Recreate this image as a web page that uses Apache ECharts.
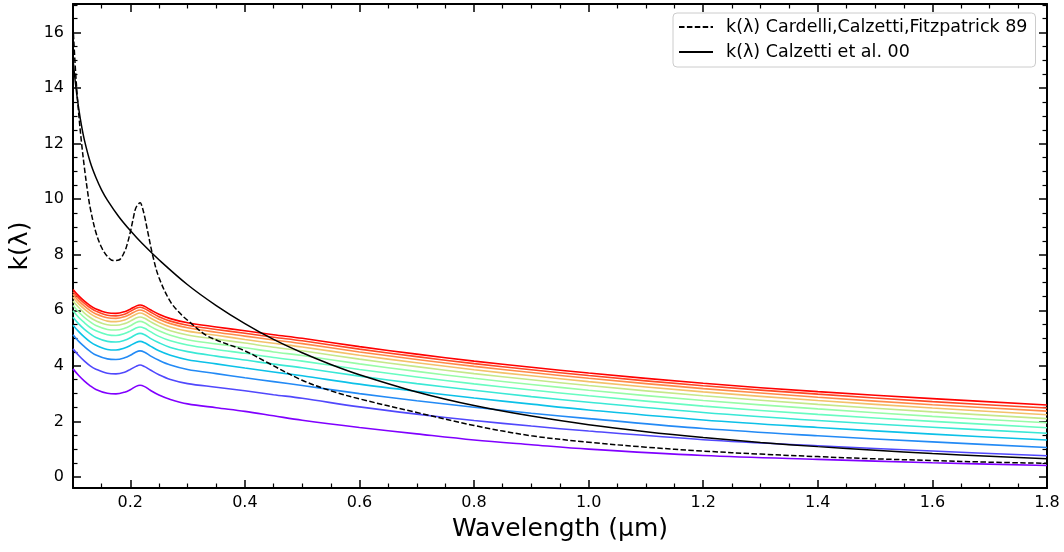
<!DOCTYPE html>
<html><head><meta charset="utf-8">
<script src="https://cdn.jsdelivr.net/npm/echarts@6/dist/echarts.min.js"></script>
<style>html,body{margin:0;padding:0;background:#fff}#c{width:1064px;height:552px}</style>
</head><body><div id="c"></div>
<script>
// ---------- data ----------
const xMajor = [0.2, 0.4, 0.6, 0.8, 1.0, 1.2, 1.4, 1.6, 1.8];
const xMinor = [0.15, 0.25, 0.3, 0.35, 0.45, 0.5, 0.55, 0.65, 0.7, 0.75, 0.85, 0.9, 0.95, 1.05, 1.1, 1.15, 1.25, 1.3, 1.35, 1.45, 1.5, 1.55, 1.65, 1.7, 1.75];
const yMajor = [0, 2, 4, 6, 8, 10, 12, 14, 16];
const yMinor = [0.5, 1, 1.5, 2.5, 3, 3.5, 4.5, 5, 5.5, 6.5, 7, 7.5, 8.5, 9, 9.5, 10.5, 11, 11.5, 12.5, 13, 13.5, 14.5, 15, 15.5, 16.5, 17];

const legendCCM = 'k(λ) Cardelli,Calzetti,Fitzpatrick 89';
const legendCalz = 'k(λ) Calzetti et al. 00';

// Cardelli (dashed)
const ccmWave = [0.10, 0.105, 0.11, 0.115, 0.12, 0.125, 0.13, 0.14, 0.15, 0.16, 0.17, 0.18, 0.19, 0.195, 0.20, 0.205, 0.21, 0.2175, 0.22, 0.225, 0.23, 0.24, 0.25, 0.27, 0.29, 0.30, 0.33, 0.35, 0.40, 0.44, 0.50, 0.55, 0.60, 0.70, 0.80, 0.90, 1.0, 1.1, 1.2, 1.3, 1.4, 1.5, 1.6, 1.7, 1.8];
const ccmK = [16.24, 14.43, 13.07, 12.01, 11.12, 10.34, 9.69, 8.80, 8.26, 7.94, 7.79, 7.81, 8.11, 8.41, 8.81, 9.29, 9.70, 9.87, 9.77, 9.38, 8.87, 7.90, 7.18, 6.31, 5.82, 5.64, 5.13, 4.93, 4.54, 4.11, 3.48, 3.10, 2.81, 2.32, 1.85, 1.48, 1.25, 1.07, 0.93, 0.82, 0.73, 0.65, 0.59, 0.53, 0.49];

// Calzetti 00 (solid)
const calzWave = [0.10, 0.105, 0.11, 0.115, 0.12, 0.13, 0.14, 0.15, 0.16, 0.18, 0.20, 0.22, 0.25, 0.30, 0.35, 0.40, 0.45, 0.50, 0.55, 0.60, 0.70, 0.80, 0.90, 1.0, 1.1, 1.2, 1.3, 1.4, 1.5, 1.6, 1.7, 1.8];
const calzK = [15.04, 14.04, 13.26, 12.63, 12.12, 11.34, 10.78, 10.33, 9.97, 9.37, 8.87, 8.42, 7.82, 6.92, 6.17, 5.52, 4.95, 4.47, 4.05, 3.68, 3.06, 2.57, 2.19, 1.88, 1.63, 1.42, 1.24, 1.09, 0.96, 0.84, 0.74, 0.65];

// rainbow family (violet -> red)
const familyWave = [0.10, 0.11, 0.12, 0.13, 0.14, 0.16, 0.175, 0.19, 0.20, 0.21, 0.217, 0.225, 0.235, 0.25, 0.27, 0.30, 0.35, 0.40, 0.45, 0.50, 0.60, 0.70, 0.80, 0.90, 1.00, 1.20, 1.40, 1.60, 1.80];
const k0  = [3.89, 3.65, 3.45, 3.28, 3.15, 3.01, 2.99, 3.05, 3.14, 3.26, 3.30, 3.25, 3.12, 2.95, 2.79, 2.63, 2.49, 2.36, 2.20, 2.04, 1.78, 1.55, 1.33, 1.16, 1.00, 0.77, 0.63, 0.51, 0.41];
const k1  = [4.61, 4.37, 4.17, 4.00, 3.88, 3.73, 3.71, 3.77, 3.87, 3.98, 4.03, 3.97, 3.85, 3.68, 3.51, 3.36, 3.23, 3.10, 2.96, 2.83, 2.52, 2.26, 2.03, 1.83, 1.65, 1.34, 1.12, 0.93, 0.76];
const k2  = [5.12, 4.88, 4.69, 4.52, 4.39, 4.25, 4.23, 4.29, 4.38, 4.50, 4.54, 4.49, 4.36, 4.20, 4.03, 3.87, 3.72, 3.57, 3.43, 3.29, 3.00, 2.74, 2.51, 2.29, 2.10, 1.74, 1.48, 1.26, 1.06];
const k3  = [5.46, 5.23, 5.03, 4.86, 4.74, 4.59, 4.57, 4.64, 4.73, 4.84, 4.88, 4.83, 4.71, 4.54, 4.38, 4.22, 4.07, 3.92, 3.78, 3.64, 3.34, 3.08, 2.84, 2.62, 2.41, 2.05, 1.78, 1.54, 1.33];
const k4  = [5.75, 5.51, 5.31, 5.15, 5.02, 4.88, 4.86, 4.92, 5.01, 5.13, 5.17, 5.12, 4.99, 4.83, 4.66, 4.51, 4.35, 4.21, 4.06, 3.93, 3.63, 3.36, 3.12, 2.89, 2.69, 2.32, 2.03, 1.79, 1.57];
const k5  = [5.98, 5.74, 5.55, 5.38, 5.26, 5.12, 5.09, 5.16, 5.25, 5.36, 5.40, 5.35, 5.23, 5.06, 4.90, 4.75, 4.59, 4.45, 4.30, 4.17, 3.87, 3.60, 3.35, 3.13, 2.92, 2.55, 2.25, 2.00, 1.77];
const k6  = [6.17, 5.94, 5.74, 5.58, 5.45, 5.31, 5.29, 5.35, 5.44, 5.56, 5.60, 5.55, 5.42, 5.26, 5.10, 4.94, 4.79, 4.65, 4.50, 4.37, 4.07, 3.80, 3.55, 3.33, 3.12, 2.75, 2.45, 2.18, 1.95];
const k7  = [6.33, 6.10, 5.90, 5.74, 5.62, 5.48, 5.46, 5.52, 5.61, 5.72, 5.76, 5.71, 5.59, 5.43, 5.26, 5.11, 4.96, 4.82, 4.67, 4.54, 4.24, 3.97, 3.72, 3.50, 3.29, 2.92, 2.61, 2.34, 2.10];
const k8  = [6.47, 6.23, 6.04, 5.88, 5.76, 5.61, 5.59, 5.65, 5.75, 5.86, 5.90, 5.85, 5.72, 5.56, 5.40, 5.25, 5.10, 4.95, 4.81, 4.68, 4.38, 4.11, 3.86, 3.64, 3.43, 3.06, 2.75, 2.48, 2.24];
const k9  = [6.58, 6.34, 6.15, 5.99, 5.87, 5.73, 5.71, 5.77, 5.86, 5.97, 6.01, 5.96, 5.84, 5.68, 5.52, 5.37, 5.21, 5.07, 4.93, 4.80, 4.50, 4.23, 3.98, 3.76, 3.55, 3.18, 2.87, 2.60, 2.37];
const k10 = [6.67, 6.44, 6.25, 6.09, 5.97, 5.82, 5.80, 5.86, 5.96, 6.07, 6.11, 6.06, 5.94, 5.77, 5.61, 5.46, 5.31, 5.17, 5.03, 4.90, 4.60, 4.33, 4.08, 3.86, 3.65, 3.28, 2.98, 2.71, 2.48];
const k11 = [6.75, 6.52, 6.33, 6.17, 6.05, 5.91, 5.89, 5.95, 6.04, 6.15, 6.19, 6.14, 6.02, 5.86, 5.70, 5.55, 5.40, 5.26, 5.12, 4.99, 4.69, 4.42, 4.17, 3.95, 3.74, 3.37, 3.07, 2.82, 2.59];
const familyK = [k0, k1, k2, k3, k4, k5, k6, k7, k8, k9, k10, k11];
const familyColors = ['#8000ff', '#5148fc', '#238af5', '#0cc1e8', '#3ae8d6', '#68fcc1', '#97fca7', '#c5e88a', '#f3c16a', '#ff8a48', '#ff4824', '#ff0000'];

// ---------- chart ----------
const FONT = 'DejaVu Sans';
const X_MIN = 0.1, X_MAX = 1.8, Y_MIN = -0.4, Y_MAX = 17.03;
const pairs = (xs, ys) => xs.map((x, i) => [x, ys[i]]);

function axis(kind, position, ticks, major, withLabels, extra) {
  const isX = kind === 'x';
  const a = {
    type: 'value', position,
    min: isX ? X_MIN : Y_MIN, max: isX ? X_MAX : Y_MAX,
    splitLine: { show: false },
    axisLine: { show: major, onZero: false, lineStyle: { color: '#000', width: 2 } },
    axisTick: { show: true, inside: true, customValues: ticks, length: major ? 8 : 4.5,
                lineStyle: { color: '#000', width: major ? 1.5 : 1.2 } },
    axisLabel: withLabels ? {
      show: true, customValues: ticks, color: '#000', fontFamily: FONT, fontSize: 16,
      margin: isX ? 7 : 9,
      formatter: v => isX ? Number(v).toFixed(1) : String(Math.round(v))
    } : { show: false }
  };
  return Object.assign(a, extra || {});
}

const series = [];
familyK.forEach((ks, i) => {
  series.push({
    name: 'curve' + i, type: 'line', data: pairs(familyWave, ks),
    symbol: 'none', smooth: 0.35,
    lineStyle: { color: familyColors[i], width: 1.6 }, itemStyle: { color: familyColors[i] },
    z: 2, silent: true
  });
});
series.push({
  name: legendCCM, type: 'line', data: pairs(ccmWave, ccmK),
  symbol: 'none', smooth: 0.35,
  lineStyle: { color: '#000', width: 1.5, type: [5.5, 2.4] }, itemStyle: { color: '#000' }, z: 3
});
series.push({
  name: legendCalz, type: 'line', data: pairs(calzWave, calzK),
  symbol: 'none', smooth: 0.35,
  lineStyle: { color: '#000', width: 1.5 }, itemStyle: { color: '#000' }, z: 3
});

const chart = echarts.init(document.getElementById('c'), null, { renderer: 'canvas' });
chart.setOption({
  animation: false,
  backgroundColor: '#fff',
  textStyle: { fontFamily: FONT },
  grid: { left: 73, right: 17, top: 4, bottom: 64, containLabel: false, outerBoundsMode: 'none' },
  legend: {
    data: [legendCCM, legendCalz], orient: 'vertical', left: 673, top: 13,
    itemWidth: 34, itemHeight: 12, itemGap: 7, padding: [5, 8, 6, 5],
    backgroundColor: '#fff', borderColor: '#cccccc', borderWidth: 1, borderRadius: 4,
    selectedMode: false,
    itemStyle: { opacity: 0, color: 'rgba(0,0,0,0)', borderColor: 'rgba(0,0,0,0)', borderWidth: 0 },
    textStyle: { fontFamily: FONT, fontSize: 17.5, color: '#000', padding: [0, 0, 0, 8] }
  },
  xAxis: [
    axis('x', 'bottom', xMajor, true, true, {
      name: 'Wavelength (μm)', nameLocation: 'middle', nameGap: 29,
      nameTextStyle: { fontFamily: FONT, fontSize: 25, color: '#000' }
    }),
    axis('x', 'top', xMajor, true, false),
    axis('x', 'bottom', xMinor, false, false),
    axis('x', 'top', xMinor, false, false)
  ],
  yAxis: [
    axis('y', 'left', yMajor, true, true, {
      name: 'k(λ)', nameLocation: 'middle', nameGap: 36,
      nameTextStyle: { fontFamily: FONT, fontSize: 25, color: '#000' }
    }),
    axis('y', 'right', yMajor, true, false),
    axis('y', 'left', yMinor, false, false),
    axis('y', 'right', yMinor, false, false)
  ],
  series
});
</script></body></html>
